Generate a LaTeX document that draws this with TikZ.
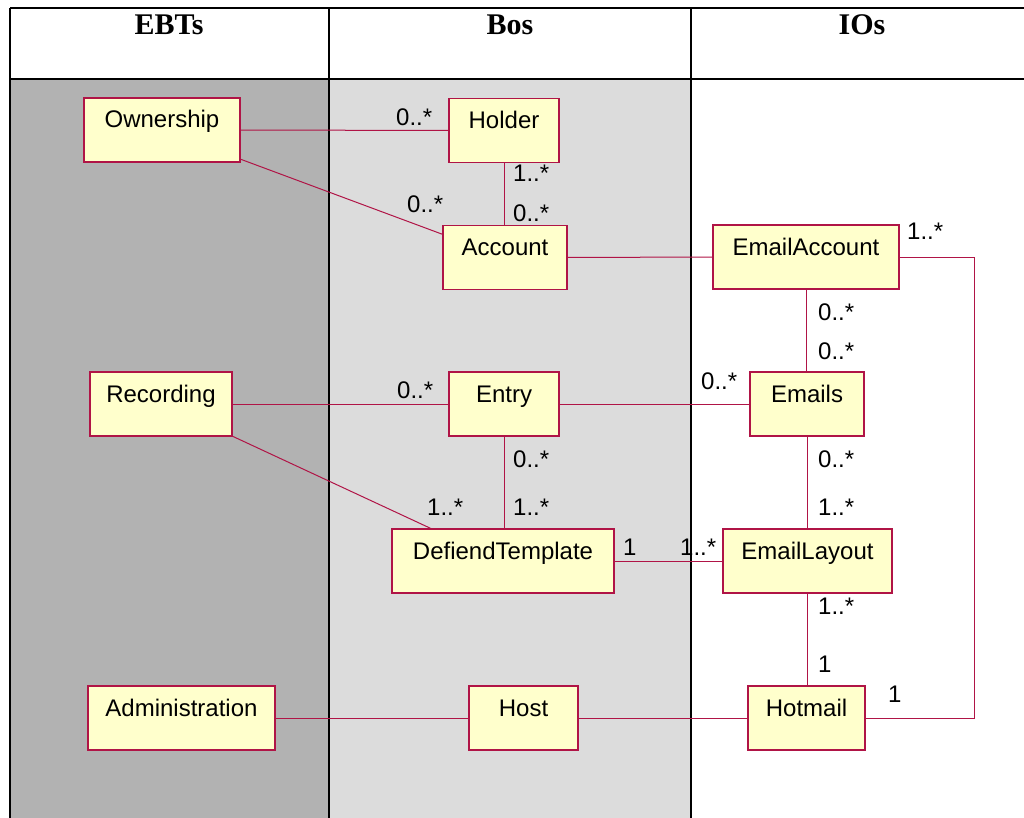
\documentclass[tikz,border=0pt]{standalone}
\usepackage{fontspec}
\setmainfont{Liberation Serif}
\setsansfont{Liberation Sans}
\usetikzlibrary{calc}
\definecolor{umlred}{RGB}{176,20,70}
\definecolor{umlfill}{RGB}{255,255,204}
\definecolor{lanedark}{RGB}{178,178,178}
\definecolor{lanelight}{RGB}{220,220,220}

\begin{document}
\begin{tikzpicture}[x=1pt,y=-1pt,
  cls/.style={draw=umlred, fill=umlfill, line width=1.2pt, inner xsep=0pt, inner ysep=0pt,
    outer sep=0pt, text height=30pt, text depth=34pt, align=center,
    font=\sffamily\fontsize{24}{28}\selectfont},
  assoc/.style={draw=umlred, line width=1pt},
  mult/.style={anchor=base west, inner sep=0pt, font=\sffamily\fontsize{24}{28}\selectfont},
  head/.style={anchor=base, inner sep=0pt, font=\rmfamily\bfseries\fontsize{30}{32}\selectfont},
  grid/.style={draw=black, line width=2pt}]

\useasboundingbox (0,0) rectangle (1024,818);
\fill[white] (0,0) rectangle (1024,818);

% lanes
\fill[lanedark]  (10,79)  rectangle (329,818);
\fill[lanelight] (329,79) rectangle (691,818);

% table rules
\draw[grid] (10,8) -- (1024,8);
\draw[grid] (10,79) -- (1024,79);
\draw[grid] (10,8) -- (10,818);
\draw[grid] (329,8) -- (329,818);
\draw[grid] (691,8) -- (691,818);

% column headings
\node[head] (hEBT) at (169,35) {EBTs};
\node[head] (hBO)  at (510,35) {Bos};
\node[head] (hIO)  at (862,35) {IOs};

% classes
\node[cls, minimum width=156pt] (own)    at (162,130)   {Ownership};
\node[cls, minimum width=110pt] (holder) at (504,130.5) {Holder};
\node[cls, minimum width=124pt] (acc)    at (505,257.5) {Account};
\node[cls, minimum width=186pt] (ea)     at (806,257)   {EmailAccount};
\node[cls, minimum width=142pt] (rec)    at (161,404)   {Recording};
\node[cls, minimum width=110pt] (entry)  at (504,404)   {Entry};
\node[cls, minimum width=114pt] (emails) at (807,404)   {Emails};
\node[cls, minimum width=222pt] (dt)     at (503,561)   {DefiendTemplate};
\node[cls, minimum width=169pt] (el)     at (807.5,561) {EmailLayout};
\node[cls, minimum width=187pt] (admin)  at (181.5,718) {Administration};
\node[cls, minimum width=109pt] (host)   at (523.5,718) {Host};
\node[cls, minimum width=117pt] (hot)    at (806.5,718) {Hotmail};

% associations
\draw[assoc] (own.east) -- (holder.west);
\draw[assoc] ([yshift=3pt]own.south east) -- ([yshift=-9pt]acc.north west);
\draw[assoc] (holder.south) -- (holder.south |- acc.north);
\draw[assoc] (acc.east) -- (ea.west);
\draw[assoc] (ea.east) -- ++(75,0) |- (hot.east);
\draw[assoc] (ea.south) -- (ea.south |- emails.north);
\draw[assoc] (rec.east) -- (entry.west);
\draw[assoc] (rec.south east) -- ([xshift=40pt]dt.north west);
\draw[assoc] (entry.south) -- (entry.south |- dt.north);
\draw[assoc] (entry.east) -- (emails.west);
\draw[assoc] (emails.south) -- (emails.south |- el.north);
\draw[assoc] (dt.east) -- (el.west);
\draw[assoc] (el.south) -- (el.south |- hot.north);
\draw[assoc] (admin.east) -- (host.west);
\draw[assoc] (host.east) -- (hot.west);

% multiplicities
\node[mult] (m1)  at (396,126) {0..*};
\node[mult] (m2)  at (407,213) {0..*};
\node[mult] (m3)  at (513,182) {1..*};
\node[mult] (m4)  at (513,222) {0..*};
\node[mult] (m5)  at (907,240) {1..*};
\node[mult] (m6)  at (818,320) {0..*};
\node[mult] (m7)  at (818,359) {0..*};
\node[mult] (m8)  at (701,389) {0..*};
\node[mult] (m9)  at (397,398) {0..*};
\node[mult] (m10) at (513,467) {0..*};
\node[mult] (m11) at (513,515) {1..*};
\node[mult] (m12) at (427,515) {1..*};
\node[mult] (m13) at (818,467) {0..*};
\node[mult] (m14) at (818,515) {1..*};
\node[mult] (m15) at (623,555) {1};
\node[mult] (m16) at (680,555) {1..*};
\node[mult] (m17) at (818,614) {1..*};
\node[mult] (m18) at (818,672) {1};
\node[mult] (m19) at (888,702) {1};
\end{tikzpicture}
\end{document}
